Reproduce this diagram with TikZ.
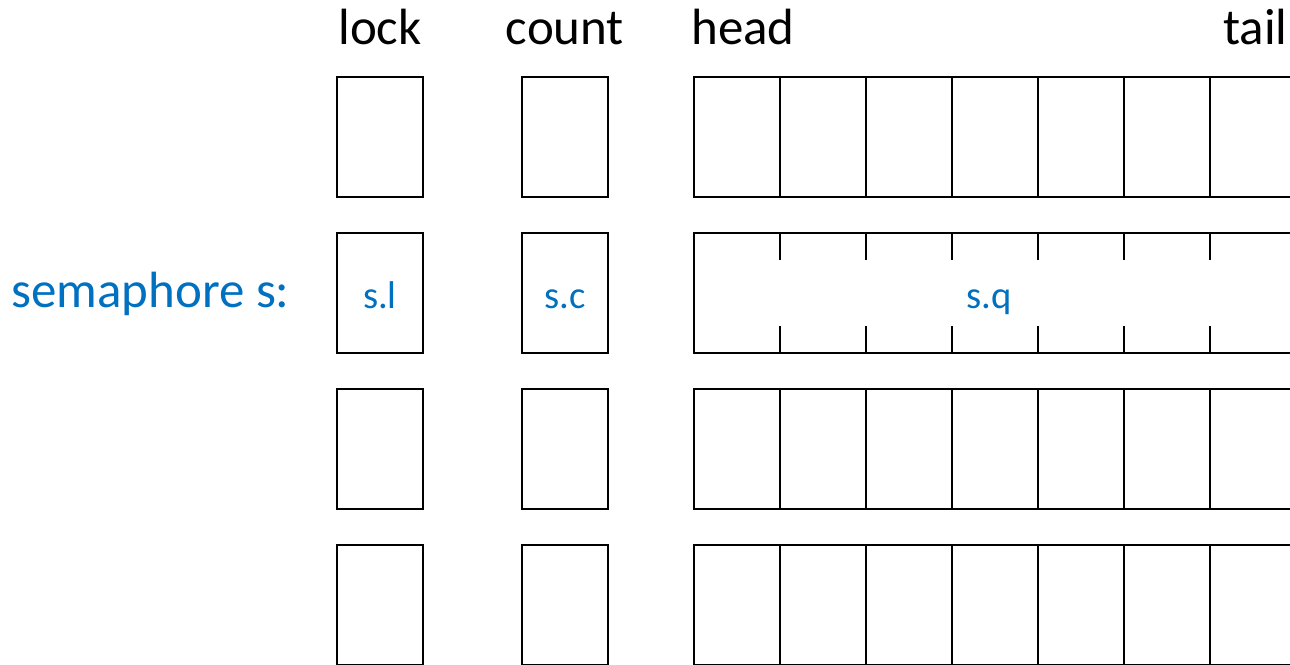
\documentclass[tikz,border=0pt]{standalone}
\usepackage{fontspec}
\setmainfont{Carlito}
\usetikzlibrary{positioning}
\definecolor{semblue}{HTML}{0070C0}

\begin{document}
\begin{tikzpicture}[
    x=0.02cm, y=-0.02cm,
    cell/.style={draw=black, line width=1.4pt, minimum width=1.72cm, minimum height=2.4cm, inner sep=0pt, outer sep=0pt},
    title/.style={font=\fontsize{29}{33}\selectfont, inner sep=0pt, anchor=base},
    field/.style={text=semblue, font=\fontsize{22}{26}\selectfont, inner sep=0pt, anchor=base}
]
    \useasboundingbox (0,0) rectangle (1290,665);
    \clip (0,0) rectangle (1290,665);

    % Column titles
    \node[title] (lockT) at (380,45) {lock};
    \node[title] (countT) at (565,45) {count};
    \node[title, anchor=base west] (headT) at (691,45) {head};
    \node[title, anchor=base east] (tailT) at (1288,45) {tail};

    % Plain rows of memory
    \foreach \y/\r in {137/a, 449/c, 605/d} {
        \node[cell] (lock\r) at (380,\y) {};
        \node[cell] (count\r) at (565,\y) {};
        \foreach \k in {0,...,7}
            \node[cell] (q\r\k) at (737+86*\k,\y) {};
    }

    % The semaphore row
    \node[title, text=semblue, anchor=base east] (sem) at (290,307) {semaphore s:};
    \node[cell] (lockb) at (380,293) {};
    \node[cell] (countb) at (565,293) {};
    \node[cell, minimum width=13cm] (queue) at (1019,293) {};
    \foreach \x in {780,866,...,1210}
        \draw[line width=1.4pt] (\x,233) -- (\x,260) (\x,326) -- (\x,353);
    \node[field] (sl) at (380,308) {s.l};
    \node[field] (sc) at (565,308) {s.c};
    \node[field] (sq) at (989,308) {s.q};
\end{tikzpicture}
\end{document}
